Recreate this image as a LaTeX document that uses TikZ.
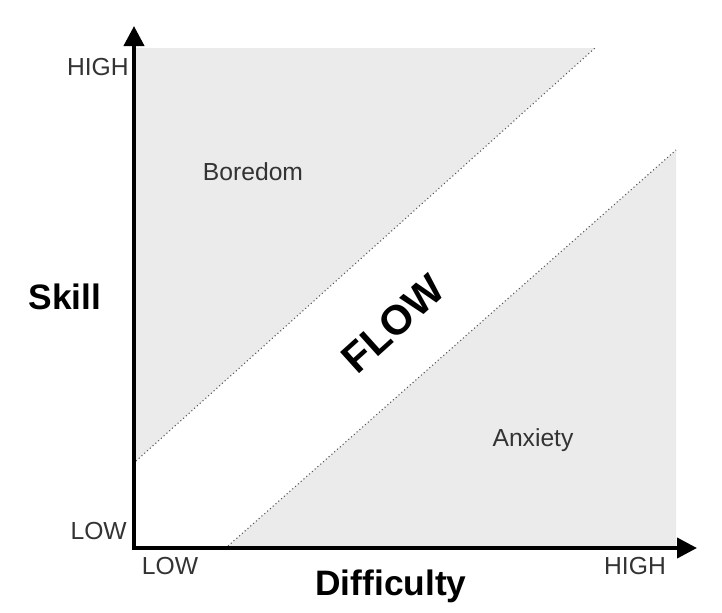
\documentclass[tikz,border=0pt]{standalone}
\usepackage{fontspec}
\setmainfont{Liberation Sans}
\usetikzlibrary{arrows.meta}
\definecolor{zone}{HTML}{EBEBEB}
\definecolor{txt}{HTML}{333333}
\definecolor{dotc}{HTML}{555555}
\tikzset{
  axis/.style={line width=3pt, {Triangle[length=15pt,width=15pt]}-{Triangle[length=15pt,width=15pt]}},
  tick/.style={text=txt, font=\fontsize{18.5}{18.5}\selectfont, inner sep=0pt},
  axlabel/.style={text=black, font=\fontsize{26.5}{26.5}\selectfont\bfseries, inner sep=0pt},
  zonelabel/.style={text=txt, font=\fontsize{18.5}{18.5}\selectfont, inner sep=0pt},
  border/.style={dotc, dotted, line width=0.8pt},
}
\begin{document}
\begin{tikzpicture}[x=0.75pt,y=-0.75pt]
\useasboundingbox (0,0) rectangle (722,612);
% corners of the gray zone
\coordinate (TL) at (136,48);
\coordinate (TR) at (676,48);
\coordinate (BR) at (676,546);
\coordinate (u1) at (136,461);
\coordinate (u2) at (595,48);
\coordinate (l1) at (228,546);
\coordinate (l2) at (676,150);
\fill[zone] (TL) -- (u2) -- (u1) -- cycle;
\fill[zone] (l1) -- (l2) -- (BR) -- cycle;
\draw[border] (u1) -- (u2);
\draw[border] (l1) -- (l2);
% axes
\coordinate (O) at (134,548);
\coordinate (xend) at (697,548);
\coordinate (yend) at (134,26);
\draw[axis, line join=miter] (xend) -- (O) -- (yend);
% labels
\node[tick, anchor=east] (yhigh) at (129,67) {HIGH};
\node[tick, anchor=east] (ylow) at (127,531) {LOW};
\node[tick] (xlow) at (170,566) {LOW};
\node[tick] (xhigh) at (635,566) {HIGH};
\node[axlabel] (skill) at (65,297) {Skill};
\node[axlabel] (diff) at (391,586) {Difficulty};
\node[zonelabel] (bore) at (253,172) {Boredom};
\node[zonelabel] (anx) at (533,440) {Anxiety};
\node[axlabel, font=\fontsize{31}{31}\selectfont\bfseries, rotate=42] (flow) at (393,324) {FLOW};
\end{tikzpicture}
\end{document}
